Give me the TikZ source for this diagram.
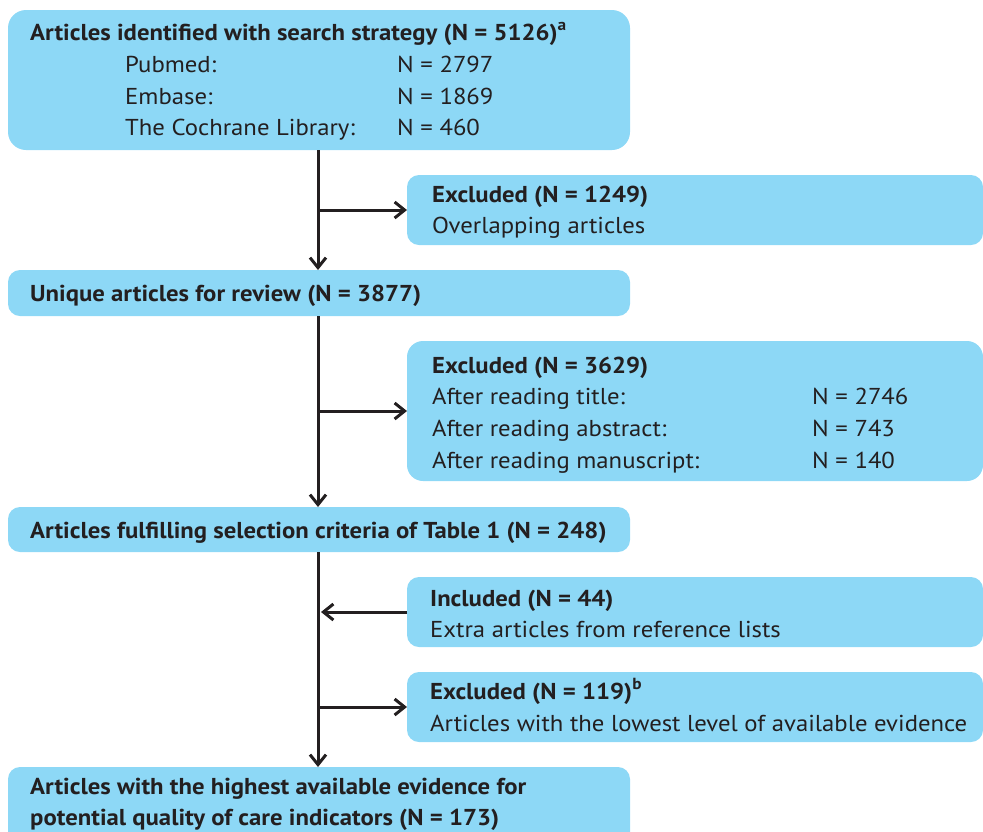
\documentclass[tikz,border=0pt]{standalone}
\usepackage{fontspec}
\setmainfont{PT Sans}[FakeStretch=1.075]
\usetikzlibrary{arrows.meta}
\definecolor{flowblue}{RGB}{141,216,246}
\definecolor{inkgray}{RGB}{35,31,32}
\begin{document}
\begin{tikzpicture}[x=1pt,y=-1pt,
  every node/.style={font=\fontsize{23}{28}\selectfont,text=inkgray},
  box/.style={fill=flowblue,rounded corners=12pt,anchor=north west,inner sep=0pt,outer sep=0pt},
  txt/.style={anchor=base west,inner sep=0pt},
  hd/.style={txt,font=\fontsize{23}{28}\selectfont\bfseries},
  flow/.style={draw=inkgray,line width=3pt,-{Straight Barb[length=10pt,width=16pt]}}]
\useasboundingbox (0,0) rectangle (983,831);
\clip (0,0) rectangle (983,831);
% boxes
\node[box,rounded corners=18pt,minimum width=622pt,minimum height=140pt] (search) at (8,10) {};
\node[box,minimum width=576pt,minimum height=70pt] (excl1) at (407,175) {};
\node[box,minimum width=622pt,minimum height=46pt] (unique) at (8,270) {};
\node[box,rounded corners=16pt,minimum width=576pt,minimum height=140pt] (excl2) at (407,341) {};
\node[box,minimum width=622pt,minimum height=45pt] (criteria) at (8,507) {};
\node[box,minimum width=576pt,minimum height=70pt] (incl) at (407,577) {};
\node[box,minimum width=576pt,minimum height=70pt] (excl3) at (407,672) {};
\node[box,minimum width=622pt,minimum height=90pt] (highest) at (8,767) {};
% texts
\node[hd] (searchhd) at (30,40) {Articles identified with search strategy (N = 5126)\textsuperscript{a}};
\node[txt] (pubmed) at (125,72) {Pubmed:};
\node[txt] (pubmedn) at (397,72) {N = 2797};
\node[txt] (embase) at (125,104) {Embase:};
\node[txt] (embasen) at (397,104) {N = 1869};
\node[txt] (cochrane) at (125,135) {The Cochrane Library:};
\node[txt] (cochranen) at (397,135) {N = 460};
\node[hd] (excl1hd) at (432,202) {Excluded (N = 1249)};
\node[txt] (excl1tx) at (432,233) {Overlapping articles};
\node[hd] (uniquehd) at (30,301) {Unique articles for review (N = 3877)};
\node[hd] (excl2hd) at (432,373) {Excluded (N = 3629)};
\node[txt] (title) at (432,404) {After reading title:};
\node[txt] (titlen) at (812,404) {N = 2746};
\node[txt] (abstract) at (432,436) {After reading abstract:};
\node[txt] (abstractn) at (812,436) {N = 743};
\node[txt] (manus) at (432,468) {After reading manuscript:};
\node[txt] (manusn) at (812,468) {N = 140};
\node[hd] (criteriahd) at (30,538) {Articles fulfilling selection criteria of Table 1 (N = 248)};
\node[hd] (inclhd) at (430,606) {Included (N = 44)};
\node[txt] (incltx) at (430,637) {Extra articles from reference lists};
\node[hd] (excl3hd) at (430,699) {Excluded (N = 119)\textsuperscript{b}};
\node[txt] (excl3tx) at (430,731) {Articles with the lowest level of available evidence};
\node[hd] (highesthd) at (30,794) {Articles with the highest available evidence for};
\node[hd] (highesthdb) at (30,825) {potential quality of care indicators (N = 173)};
% connectors
\coordinate (spine) at (318,0);
\draw[flow] (search.south -| spine) -- (unique.north -| spine);
\draw[flow] (excl1.west -| spine) -- (excl1.west);
\draw[flow] (unique.south -| spine) -- (criteria.north -| spine);
\draw[flow] (excl2.west -| spine) -- (excl2.west);
\draw[flow] (criteria.south -| spine) -- (highest.north -| spine);
\draw[flow] (incl.west) -- ([xshift=3pt]incl.west -| spine);
\draw[flow] (excl3.west -| spine) -- (excl3.west);
\end{tikzpicture}
\end{document}
